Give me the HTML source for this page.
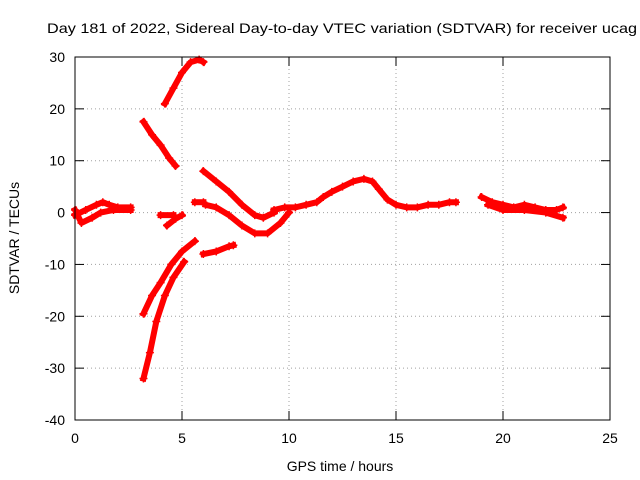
<!DOCTYPE html>
<html><head><meta charset="utf-8"><style>body{margin:0;background:#fff}svg{display:block;font-family:"Liberation Sans",sans-serif}</style></head>
<body>
<svg id="chart" width="640" height="480">
<rect width="640" height="480" fill="#fff"/>
<text x="47" y="33" font-size="14" textLength="590" lengthAdjust="spacingAndGlyphs">Day 181 of 2022, Sidereal Day-to-day VTEC variation (SDTVAR) for receiver ucag</text>
<g id="grid"></g><g id="ticks"></g><g id="series"></g>
<rect x="75" y="57" width="535" height="363" fill="none" stroke="#000" stroke-width="1"/>
<text x="340" y="471" font-size="14" text-anchor="middle">GPS time / hours</text>
<text transform="translate(19,238) rotate(-90)" font-size="14" text-anchor="middle">SDTVAR / TECUs</text>
</svg>
<script>
const xTicks=[0,5,10,15,20,25];
const yTicks=[-40,-30,-20,-10,0,10,20,30];
const seg1=[[4.2,21],[4.6,24],[5,27],[5.4,29],[5.8,29.5],[6,29]];
const seg2=[[3.2,17.5],[3.6,15],[4,13],[4.4,10.5],[4.7,9]];
const seg3=[[3.2,-19.5],[3.6,-16],[4,-13.5],[4.5,-10],[5,-7.5],[5.6,-5.5]];
const seg4=[[3.2,-32],[3.5,-27],[3.8,-21],[4.2,-16],[4.6,-12.5],[5.1,-9.5]];
const seg5=[[4,-0.5],[4.6,-0.5]];
const seg6=[[4.3,-2.5],[4.7,-1.2],[5,-0.5]];
const seg7=[[6,8],[6.6,6],[7.2,4],[7.8,1.5],[8.4,-0.5],[8.8,-1],[9.3,0]];
const seg8=[[6.1,1.5],[6.6,1],[7.2,-0.5],[7.8,-2.5],[8.4,-4],[9,-4],[9.6,-2],[10,0]];
const seg9=[[6,-8],[6.6,-7.5],[7.2,-6.5],[7.4,-6.3]];
const seg10=[[5.6,2],[6,2]];
const segMain=[[9.3,0.5],[9.8,1],[10.3,1],[10.8,1.5],[11.3,2],[11.6,3],[12,4],[12.5,5],[13,6],[13.5,6.5],[13.9,6],[14.2,4.5],[14.6,2.5],[15,1.5],[15.5,1],[16,1],[16.5,1.5],[17,1.5],[17.5,2],[17.8,2]];
const segEarlyA=[[0,-0.5],[0.5,0.5],[1,1.5],[1.3,2],[1.6,1.5],[2,1],[2.6,1]];
const segEarlyB=[[0,0.5],[0.3,-2],[0.8,-1],[1.2,0],[1.8,0.5],[2.6,0.5]];
const segLateA=[[19,3],[19.5,2],[20,1.5],[20.5,1],[21,1.5],[21.5,1],[22,0.5],[22.5,0.5],[22.8,1]];
const segLateB=[[19.3,1.5],[20,0.5],[21,0.5],[22,0],[22.8,-1]];
const allSegs=[seg1,seg2,seg3,seg4,seg5,seg6,seg7,seg8,seg9,seg10,segMain,segEarlyA,segEarlyB,segLateA,segLateB];
const X=v=>75+v*535/25, Y=v=>57+(30-v)*363/70;
const NS="http://www.w3.org/2000/svg";
function mk(t,a,p){const e=document.createElementNS(NS,t);for(const k in a)e.setAttribute(k,a[k]);p.appendChild(e);return e;}
const grid=document.getElementById('grid'),ticks=document.getElementById('ticks'),ser=document.getElementById('series');
xTicks.forEach(t=>{const x=X(t);
 if(t>0&&t<25){const g=mk('line',{x1:x,x2:x,y1:57,y2:420,stroke:'#a0a0a0','stroke-dasharray':'1,3'},grid);
 
 }
 mk('line',{x1:x,x2:x,y1:420,y2:411,stroke:'#000'},ticks);mk('line',{x1:x,x2:x,y1:57,y2:66,stroke:'#000'},ticks);
 const l=mk('text',{x:x,y:443,'font-size':14,'text-anchor':'middle'},ticks);l.textContent=t;
 
 });
yTicks.forEach(t=>{const y=Y(t);
 if(t>-40&&t<30){const g=mk('line',{x1:75,x2:610,y1:y,y2:y,stroke:'#a0a0a0','stroke-dasharray':'1,3'},grid);
 
 }
 mk('line',{x1:75,x2:84,y1:y,y2:y,stroke:'#000'},ticks);mk('line',{x1:610,x2:601,y1:y,y2:y,stroke:'#000'},ticks);
 const l=mk('text',{x:65,y:y+5,'font-size':14,'text-anchor':'end'},ticks);l.textContent=t;
 
 });
allSegs.forEach(s=>{const p=mk('polyline',{points:s.map(d=>X(d[0])+','+Y(d[1])).join(' '),fill:'none',stroke:'#f00','stroke-width':6,'stroke-linejoin':'round','stroke-linecap':'square'},ser);
 
 
 s.forEach(d=>{const x=X(d[0]),y=Y(d[1]);
  const m=mk('path',{d:`M${x-4},${y}h8M${x},${y-4}v8`,stroke:'#f00','stroke-width':1.5},ser);
  
  });});
</script>
</body></html>
